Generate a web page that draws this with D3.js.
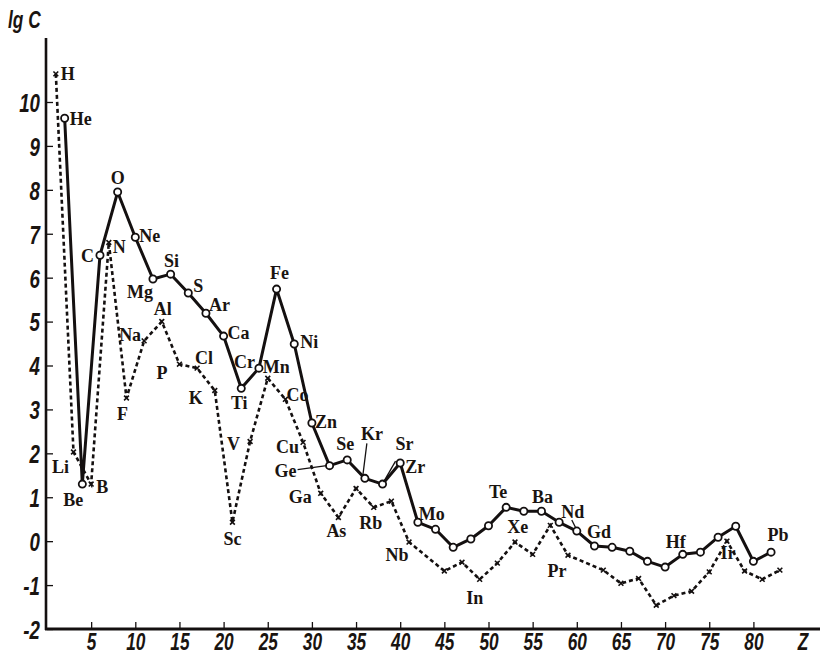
<!DOCTYPE html>
<html>
<head>
<meta charset="utf-8">
<script src="https://cdn.jsdelivr.net/npm/d3@7"></script>
<style>
  html, body { margin: 0; padding: 0; background: #fff; }
  svg { display: block; }
  .num { font-family: "Liberation Sans", "Arimo", sans-serif; font-style: italic; font-weight: bold; font-size: 26px; fill: #1a1410; }
  .xnum { font-size: 24px; }
  .el { font-family: "Liberation Serif", "DejaVu Serif", serif; font-weight: bold; font-size: 18px; fill: #1a1410; }
</style>
</head>
<body>
<svg id="chart" width="820" height="657"></svg>
<script>
// Abundance of elements (lg C) versus atomic number Z.
// Even-Z elements: solid line with open circles.
const evenZ = [2, 4, 6, 8, 10, 12, 14, 16, 18, 20, 22, 24, 26, 28, 30, 32, 34, 36, 38, 40,
  42, 44, 46, 48, 50, 52, 54, 56, 58, 60, 62, 64, 66, 68, 70, 72, 74, 76, 78, 80, 82];
const evenLgC = [9.63, 1.30, 6.51, 7.95, 6.92, 5.97, 6.08, 5.65, 5.19, 4.67, 3.48, 3.94, 5.74, 4.49, 2.69, 1.72, 1.85, 1.43, 1.30, 1.78,
  0.43, 0.27, -0.14, 0.05, 0.35, 0.77, 0.68, 0.68, 0.43, 0.23, -0.11, -0.14, -0.23, -0.46, -0.59, -0.30, -0.25, 0.09, 0.34, -0.46, -0.25];

// Odd-Z elements: dashed line with crosses.
const oddZ = [1, 3, 5, 7, 9, 11, 13, 15, 17, 19, 21, 23, 25, 27, 29, 31, 33, 35, 37, 39, 41,
  45, 47, 49, 51, 53, 55, 57, 59, 63, 65, 67, 69, 71, 73, 75, 77, 79, 81, 83];
const oddLgC = [10.64, 2.03, 1.30, 6.80, 3.26, 4.56, 5.00, 4.03, 3.94, 3.43, 0.43, 2.27, 3.71, 3.23, 2.25, 1.09, 0.54, 1.20, 0.77, 0.91, -0.02,
  -0.68, -0.48, -0.87, -0.50, -0.02, -0.30, 0.36, -0.32, -0.66, -0.96, -0.85, -1.46, -1.24, -1.14, -0.70, 0.00, -0.68, -0.87, -0.66];

// Element symbols written next to their points.
const symbols = { 1: "H", 2: "He", 3: "Li", 4: "Be", 5: "B", 6: "C", 7: "N", 8: "O", 9: "F", 10: "Ne",
  11: "Na", 12: "Mg", 13: "Al", 14: "Si", 15: "P", 16: "S", 17: "Cl", 18: "Ar", 19: "K", 20: "Ca",
  21: "Sc", 22: "Ti", 23: "V", 24: "Cr", 25: "Mn", 26: "Fe", 27: "Co", 28: "Ni", 29: "Cu", 30: "Zn",
  31: "Ga", 32: "Ge", 33: "As", 34: "Se", 36: "Kr", 37: "Rb", 38: "Sr", 40: "Zr", 41: "Nb", 42: "Mo",
  49: "In", 52: "Te", 54: "Xe", 56: "Ba", 59: "Pr", 60: "Nd", 64: "Gd", 72: "Hf", 77: "Ir", 82: "Pb" };

const xTicks = [5, 10, 15, 20, 25, 30, 35, 40, 45, 50, 55, 60, 65, 70, 75, 80];
const yTicks = [-2, -1, 0, 1, 2, 3, 4, 5, 6, 7, 8, 9, 10];

// Label placement relative to each point: [dx, dy, anchor, leader]
const labelPlace = {
  H: [5, 0, "start"], He: [5, 0, "start"], Li: [-13, 15, "middle"], Be: [-9, 16, "middle"],
  B: [5, 3, "start"], C: [-6, 0, "end"], N: [4, 4, "start"], O: [0, -14, "middle"],
  F: [-4, 16, "middle"], Ne: [4, -2, "start"], Na: [-3, -6, "end"], Mg: [0, 13, "end"],
  Al: [1, -13, "middle"], Si: [1, -13, "middle"], P: [-12, 9, "end"], S: [5, -7, "start"],
  Cl: [-2, -10, "start"], Ar: [3, -9, "start"], K: [-12, 7, "end"], Ca: [4, -3, "start"],
  Sc: [0, 16, "middle"], Ti: [-2, 14, "middle"], V: [-10, 2, "end"], Cr: [-4, -6, "end"],
  Mn: [-5, -12, "start"], Fe: [3, -16, "middle"], Co: [1, -5, "start"], Ni: [6, -2, "start"],
  Cu: [-4, 4, "end"], Zn: [3, -1, "start"], Ga: [-9, 3, "end"], Ge: [-33, 5, "end", [-32, 4, -3, 0]],
  As: [-2, 13, "middle"], Se: [-2, -16, "middle"], Kr: [7, -45, "middle", [2, -35, -2, -3]],
  Rb: [-3, 15, "middle"], Sr: [22, -40, "middle", [13, -23, 1, -2]], Zr: [5, 4, "start"],
  Nb: [-12, 13, "middle"], Mo: [1, -9, "start"], In: [-5, 18, "middle"], Te: [-8, -16, "middle"],
  Xe: [-6, 15, "middle"], Ba: [1, -15, "middle"], Pr: [-11, 15, "middle"], Nd: [-4, -19, "middle", [-5, -11, -1, -3]],
  Gd: [-13, -16, "middle"], Hf: [-7, -13, "middle"], Ir: [1, 12, "middle"], Pb: [7, -17, "middle"]
};

const ink = "#141010";
const svg = d3.select("#chart");

const x = d3.scaleLinear().domain([0, 85]).range([47, 47 + 8.83 * 85]);
const y = d3.scaleLinear().domain([-2, 10]).range([629, 102]);

// Narrow italic numerals: squeeze each label horizontally around its anchor
const squeeze = 0.72;
function narrow(sel) {
  sel.each(function () {
    const t = d3.select(this);
    const tx = +t.attr("x") || 0;
    t.attr("x", tx / squeeze).attr("transform", `scale(${squeeze},1)`);
  });
}

// Axis lines
svg.append("line").attr("x1", 46).attr("x2", 46).attr("y1", 38).attr("y2", 630)
  .attr("stroke", ink).attr("stroke-width", 2.6);
svg.append("line").attr("x1", 45).attr("x2", 820).attr("y1", 629).attr("y2", 629)
  .attr("stroke", ink).attr("stroke-width", 3);

// Y axis: short ticks inside the plot, italic numbers outside
const yAxis = d3.axisLeft(y).tickValues(yTicks).tickSizeInner(-6).tickSizeOuter(0).tickPadding(7)
  .tickFormat(d => d < 0 ? "-" + Math.abs(d) : String(d));
const gy = svg.append("g").attr("transform", "translate(47,0)").call(yAxis);
gy.select(".domain").remove();
gy.selectAll(".tick line").attr("stroke", ink).attr("stroke-width", 1.3);
gy.selectAll(".tick text").attr("class", "num").attr("font-family", null).attr("font-size", null)
  .attr("x", -7).attr("dy", "0.36em").call(narrow);

// X axis: ticks pointing up, numbers below
const xAxis = d3.axisBottom(x).tickValues(xTicks).tickSizeInner(-6).tickSizeOuter(0).tickPadding(5);
const gx = svg.append("g").attr("transform", "translate(0,628)").call(xAxis);
gx.select(".domain").remove();
gx.selectAll(".tick line").attr("stroke", ink).attr("stroke-width", 1.3);
gx.selectAll(".tick text").attr("class", "num xnum").attr("font-family", null).attr("font-size", null).call(narrow);

svg.append("text").attr("class", "num xnum").attr("x", 803).attr("y", 650).attr("text-anchor", "middle").text("Z").call(narrow);
svg.append("text").attr("class", "num").attr("x", 8).attr("y", 28).style("font-size", "24px")
  .attr("text-anchor", "start").text("lg C").call(narrow);

const evenPts = evenZ.map((z, i) => ({ z, v: evenLgC[i] }));
const oddPts = oddZ.map((z, i) => ({ z, v: oddLgC[i] }));

const line = d3.line().x(d => x(d.z)).y(d => y(d.v));

// Odd-Z series
svg.append("path").datum(oddPts).attr("d", line).attr("fill", "none")
  .attr("stroke", ink).attr("stroke-width", 2.6).attr("stroke-dasharray", "4,3");
svg.append("g").selectAll("path").data(oddPts).join("path")
  .attr("d", d => { const cx = x(d.z), cy = y(d.v), r = 2.4;
    return `M${cx - r},${cy - r}L${cx + r},${cy + r}M${cx - r},${cy + r}L${cx + r},${cy - r}`; })
  .attr("stroke", ink).attr("stroke-width", 1.6);

// Even-Z series
svg.append("path").datum(evenPts).attr("d", line).attr("fill", "none")
  .attr("stroke", ink).attr("stroke-width", 3).attr("stroke-linejoin", "round");
svg.append("g").selectAll("circle").data(evenPts).join("circle")
  .attr("cx", d => x(d.z)).attr("cy", d => y(d.v)).attr("r", 3.6)
  .attr("fill", "#fff").attr("stroke", ink).attr("stroke-width", 1.8);

// Element labels
const allPts = evenPts.concat(oddPts).filter(d => symbols[d.z]);
allPts.forEach(d => {
  const s = symbols[d.z];
  const p = labelPlace[s];
  const px = x(d.z), py = y(d.v);
  if (p[3]) {
    const L = p[3];
    svg.append("line").attr("x1", px + L[0]).attr("y1", py + L[1]).attr("x2", px + L[2]).attr("y2", py + L[3])
      .attr("stroke", ink).attr("stroke-width", 1.3);
  }
  svg.append("text").attr("class", "el").attr("x", px + p[0]).attr("y", py + p[1])
    .attr("dy", "0.35em").attr("text-anchor", p[2]).text(s);
});
</script>
</body>
</html>
